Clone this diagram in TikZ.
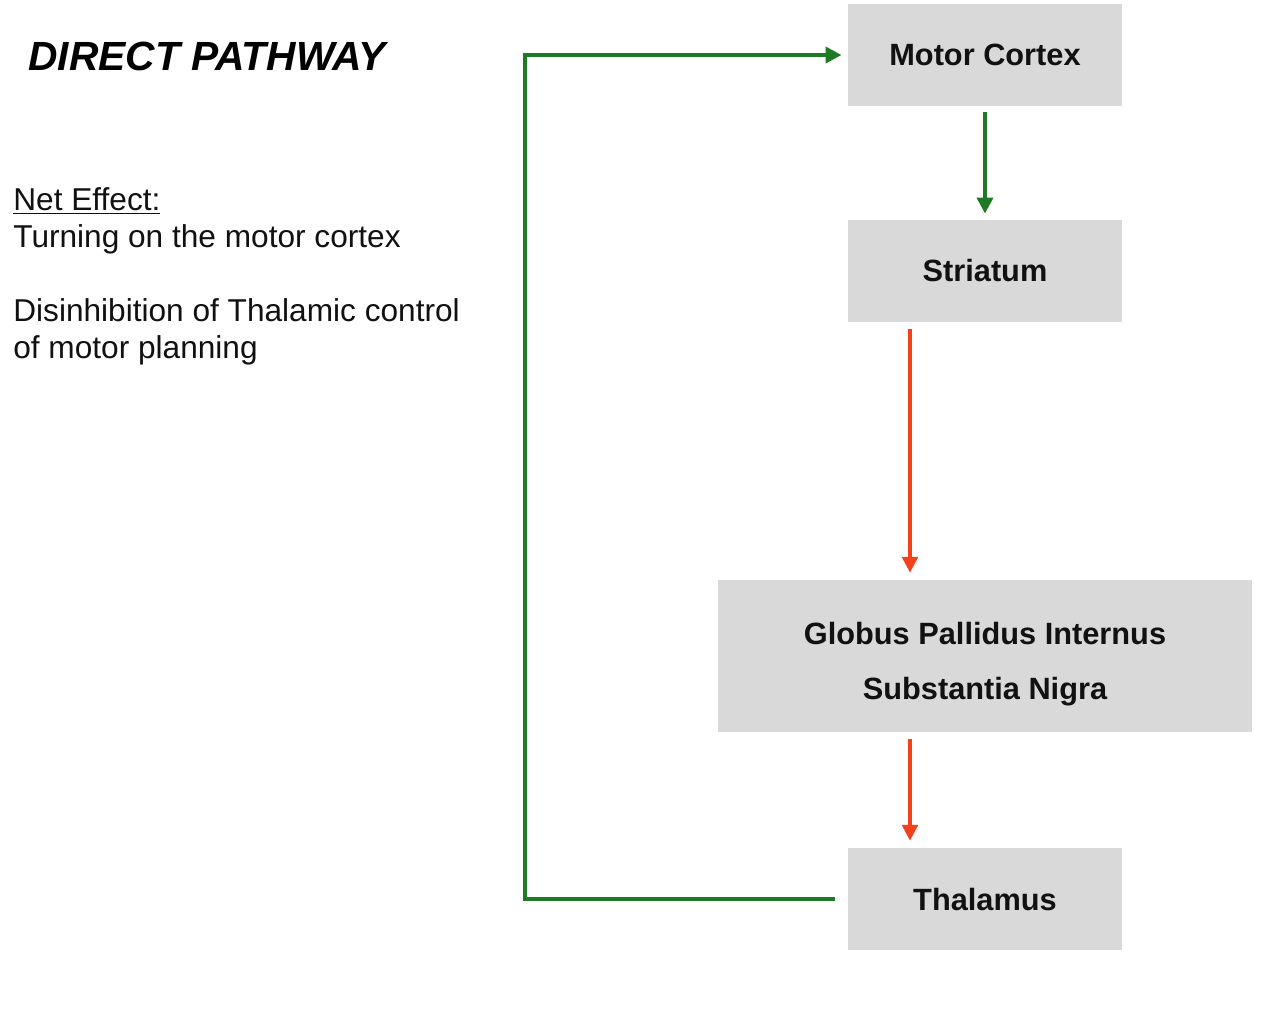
\documentclass[tikz,border=0pt]{standalone}
\usepackage{fontspec}
\setmainfont{Liberation Sans}
\definecolor{boxGray}{HTML}{D9D9D9}
\definecolor{pathGreen}{HTML}{1F7A24}
\definecolor{pathRed}{HTML}{F2421B}
\definecolor{textDark}{HTML}{111111}
\usetikzlibrary{arrows.meta, positioning}

\begin{document}
\begin{tikzpicture}[
    x=0.02cm, y=-0.02cm,
    region/.style={rectangle, fill=boxGray, draw=none, inner sep=0pt, minimum width=5.48cm, minimum height=2.04cm, align=center, font=\fontsize{17.5}{31}\selectfont\bfseries, text=textDark},
    note/.style={anchor=base west, inner sep=0pt, align=left, font=\fontsize{18}{21}\selectfont, text=textDark},
    garr/.style={-{Triangle[length=9pt, width=9pt]}, line width=2.2pt, pathGreen, shorten <=3.5pt, shorten >=3.5pt},
    rarr/.style={-{Triangle[length=9pt, width=9pt]}, line width=1.8pt, pathRed, shorten <=4pt, shorten >=4pt}
]
\useasboundingbox (0,0) rectangle (1285,1015);

% Title and notes
\node[anchor=base west, inner sep=0pt, font=\fontsize{23.2}{27}\selectfont\bfseries\itshape] (title) at (28,70) {DIRECT PATHWAY};
\node[note] (neteffect) at (13,247) {\underline{Net Effect:}\\Turning on the motor cortex};
\node[note] (disinhib) at (13,358) {Disinhibition of Thalamic control\\of motor planning};

% Nuclei
\node[region] (motor) at (985,55) {Motor Cortex};
\node[region] (striatum) at (985,271) {Striatum};
\node[region, minimum width=10.7cm, minimum height=3.04cm, text height=53pt] (gpi) at (985,656) {Globus Pallidus Internus\\Substantia Nigra};
\node[region] (thal) at (985,899) {Thalamus};

% Helper columns
\coordinate (loopx) at (525,0);
\coordinate (redx) at (910,0);

% Arrows
\draw[garr] (motor) -- (striatum);
\draw[rarr] (striatum.south -| redx) -- (gpi.north -| redx);
\draw[rarr] (gpi.south -| redx) -- (thal.north -| redx);
\draw[garr, shorten <=7pt] (thal.west) -- (thal.west -| loopx) -- (motor.west -| loopx) -- (motor.west);

\end{tikzpicture}
\end{document}
